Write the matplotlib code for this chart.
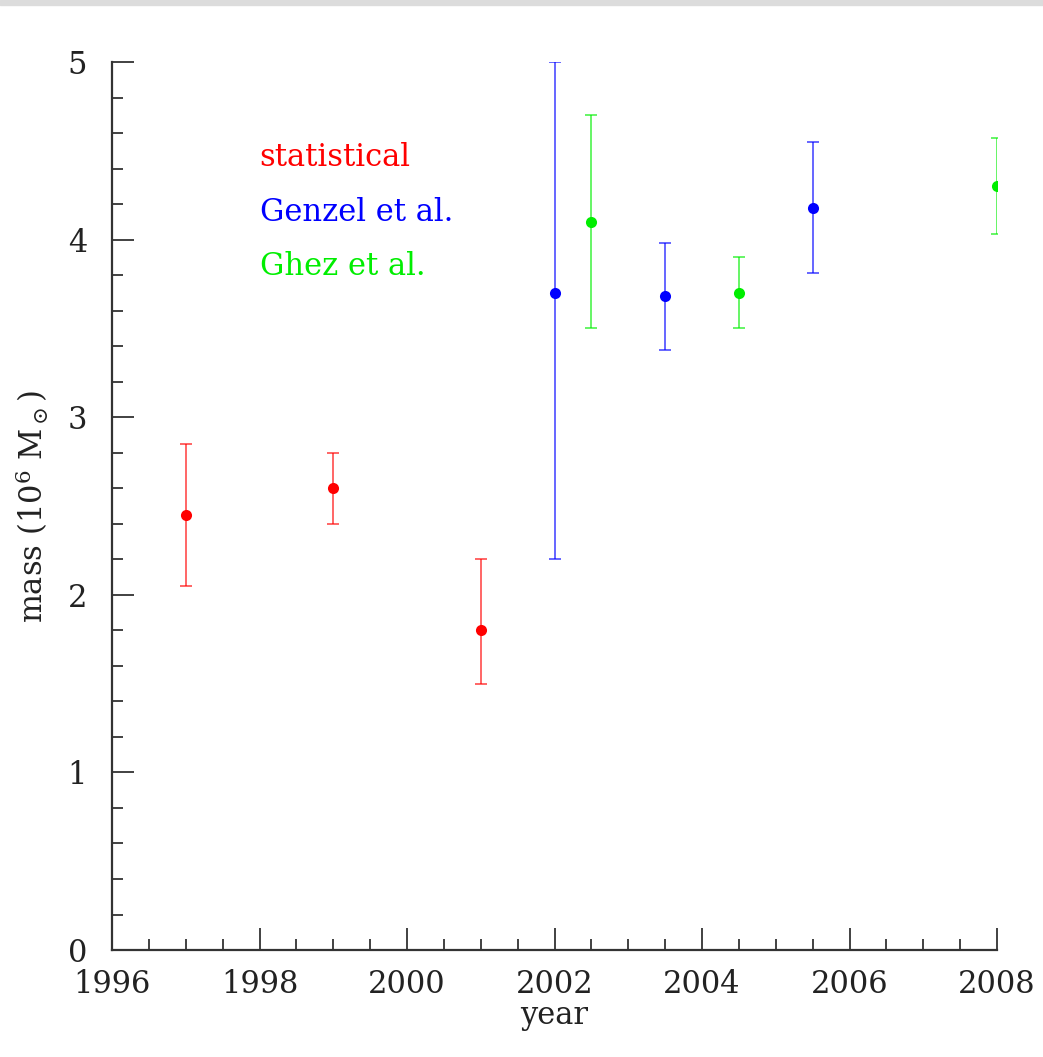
import numpy as np
import matplotlib
matplotlib.use('Agg')
import matplotlib.pyplot as plt
from matplotlib.patches import Rectangle
from matplotlib.ticker import MultipleLocator

# statistical estimates
stat_year = [1997, 1999, 2001]
stat_mass = [2.45, 2.6, 1.8]
stat_lo = [2.05, 2.4, 1.5]
stat_hi = [2.85, 2.8, 2.2]

# Genzel et al.
genzel_year = [2002, 2003.5, 2005.5]
genzel_mass = [3.7, 3.68, 4.18]
genzel_lo = [2.2, 3.38, 3.81]
genzel_hi = [5.0, 3.98, 4.55]

# Ghez et al.
ghez_year = [2002.5, 2004.5, 2008]
ghez_mass = [4.1, 3.7, 4.3]
ghez_lo = [3.5, 3.5, 4.03]
ghez_hi = [4.7, 3.9, 4.57]

plt.rcParams['font.family'] = ['DejaVu Serif', 'DejaVu Sans']
plt.rcParams['mathtext.fontset'] = 'dejavuserif'

fig = plt.figure(figsize=(10.43, 10.57), dpi=100)
fig.patches.append(Rectangle((0, 1 - 5/1057.), 1, 5/1057., transform=fig.transFigure,
                             color='#dcdcdc', zorder=0))
ax = fig.add_axes([0.1074, 0.1012, 0.8485, 0.8401])

def draw(x, m, lo, hi, col):
    x = np.array(x); m = np.array(m)
    err = [m - np.array(lo), np.array(hi) - m]
    ax.errorbar(x, m, yerr=err, fmt='none', ecolor=col, elinewidth=1.3,
                capsize=4.3, capthick=1.3, alpha=0.65)
    ax.plot(x, m, 'o', color=col, markersize=8, markeredgewidth=0)

draw(stat_year, stat_mass, stat_lo, stat_hi, '#ff0000')
draw(genzel_year, genzel_mass, genzel_lo, genzel_hi, '#0000ff')
draw(ghez_year, ghez_mass, ghez_lo, ghez_hi, '#00ee00')

ax.set_xlim(1996, 2008)
ax.set_ylim(0, 5)
for s in ['top', 'right']:
    ax.spines[s].set_visible(False)
for s in ['left', 'bottom']:
    ax.spines[s].set_color('#333333')
    ax.spines[s].set_linewidth(1.6)

ax.xaxis.set_major_locator(MultipleLocator(2))
ax.xaxis.set_minor_locator(MultipleLocator(0.5))
ax.yaxis.set_major_locator(MultipleLocator(1))
ax.yaxis.set_minor_locator(MultipleLocator(0.2))
ax.tick_params(which='both', direction='in', color='#333333', width=1.3,
               labelsize=22, labelcolor='#222222')
ax.tick_params(which='major', length=16)
ax.tick_params(which='minor', length=8)
ax.tick_params(axis='x', pad=14)
ax.tick_params(axis='y', pad=18)

ax.set_xlabel('year', fontsize=22, color='#222222', labelpad=0)
ax.set_ylabel(r'mass (10$^6$ M$_\odot$)', fontsize=22, color='#222222', labelpad=12)

ax.text(1998.0, 4.46, 'statistical', color='#ff0000', fontsize=22, va='center')
ax.text(1998.0, 4.155, 'Genzel et al.', color='#0000ff', fontsize=22, va='center')
ax.text(1998.0, 3.85, 'Ghez et al.', color='#00ee00', fontsize=22, va='center')

fig.savefig('out.png', dpi=100)
